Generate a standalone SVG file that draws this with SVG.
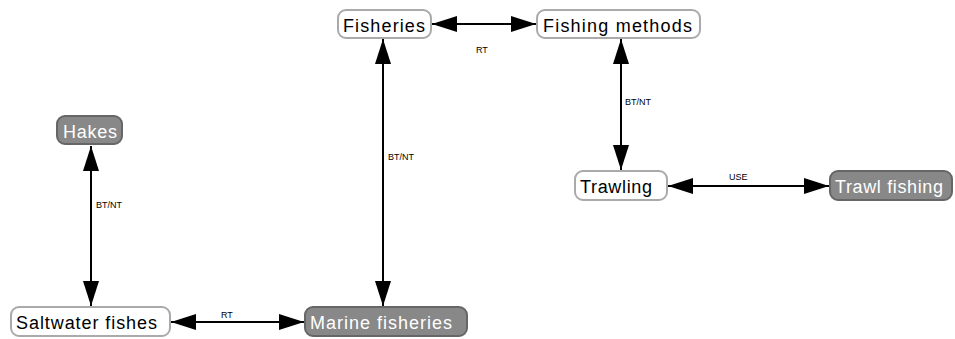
<svg xmlns="http://www.w3.org/2000/svg" width="955" height="339" viewBox="0 0 955 339">
<style>
.w rect{fill:#fff;stroke:#aaa;stroke-width:2}
.g rect{fill:#888;stroke:#666;stroke-width:2}
text{font-family:"Liberation Sans",Arial,sans-serif}
.w text{fill:#000;font-size:18px}
.g text{fill:#fff;font-size:18px}
.lbl{font-size:9px;fill:#000}
.c line{stroke:#000;stroke-width:2}
</style>
<defs>
<marker id="a" viewBox="0 0 25 16" refX="25" refY="8" markerWidth="25" markerHeight="16" markerUnits="userSpaceOnUse" orient="auto-start-reverse">
<path d="M0,0L25,8L0,16z" fill="#000"/>
</marker>
</defs>
<g class="c">
<line x1="432" y1="24" x2="536" y2="24" marker-start="url(#a)" marker-end="url(#a)"/>
<line x1="383" y1="39" x2="383" y2="306" marker-start="url(#a)" marker-end="url(#a)"/>
<line x1="621" y1="39" x2="621" y2="170" marker-start="url(#a)" marker-end="url(#a)"/>
<line x1="668" y1="186" x2="829" y2="186" marker-start="url(#a)" marker-end="url(#a)"/>
<line x1="91" y1="146" x2="91" y2="306" marker-start="url(#a)" marker-end="url(#a)"/>
<line x1="171" y1="322" x2="304" y2="322" marker-start="url(#a)" marker-end="url(#a)"/>
<text class="lbl" x="476" y="53">RT</text>
<text class="lbl" x="388" y="160">BT/NT</text>
<text class="lbl" x="625" y="105">BT/NT</text>
<text class="lbl" x="729" y="180">USE</text>
<text class="lbl" x="96" y="208">BT/NT</text>
<text class="lbl" x="221" y="318">RT</text>
</g>
<g id="fisheries" class="w"><rect x="338" y="10" width="93" height="28" rx="8"/><text x="343" y="32" textLength="82" lengthAdjust="spacing">Fisheries</text></g>
<g id="fishing-methods" class="w"><rect x="537" y="10" width="163" height="28" rx="8"/><text x="543" y="32" textLength="149" lengthAdjust="spacing">Fishing methods</text></g>
<g id="hakes" class="g"><rect x="57" y="116" width="65" height="28" rx="8"/><text x="63" y="138" textLength="54" lengthAdjust="spacing">Hakes</text></g>
<g id="trawling" class="w"><rect x="575" y="171" width="92" height="29" rx="8"/><text x="580" y="193" textLength="72" lengthAdjust="spacing">Trawling</text></g>
<g id="trawl-fishing" class="g"><rect x="830" y="171" width="122" height="29" rx="8"/><text x="835" y="193" textLength="108" lengthAdjust="spacing">Trawl fishing</text></g>
<g id="saltwater-fishes" class="w"><rect x="11" y="307" width="159" height="29" rx="8"/><text x="16" y="329" textLength="141" lengthAdjust="spacing">Saltwater fishes</text></g>
<g id="marine-fisheries" class="g"><rect x="305" y="307" width="162" height="29" rx="8"/><text x="310" y="329" textLength="142" lengthAdjust="spacing">Marine fisheries</text></g>
</svg>
